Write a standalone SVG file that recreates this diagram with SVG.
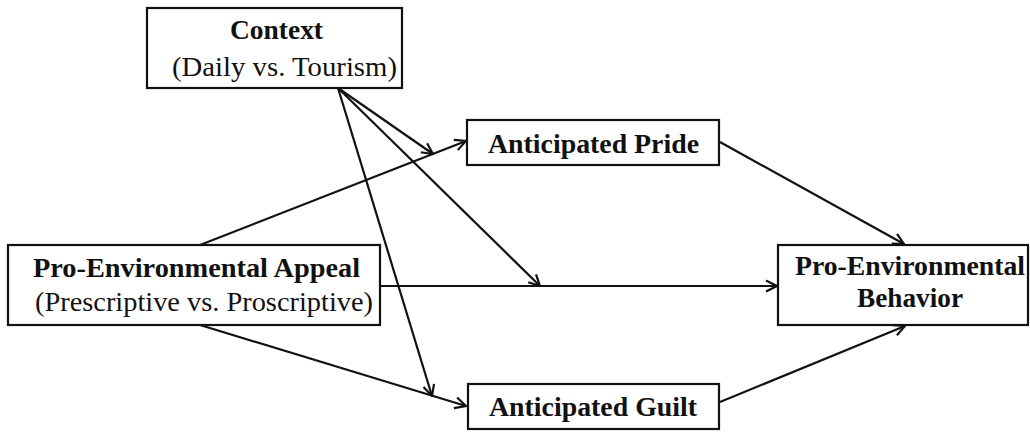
<svg xmlns="http://www.w3.org/2000/svg" width="1030" height="432" viewBox="0 0 1030 432">
<style>
.box{fill:#fff;stroke:#111;stroke-width:2.2}
.b{font-family:"Liberation Serif","Times New Roman",serif;font-weight:bold;font-size:28px;fill:#111}
.r{font-family:"Liberation Serif","Times New Roman",serif;font-size:28px;fill:#111}
.c{fill:none;stroke:#111;stroke-width:2.2;marker-end:url(#ah)}
</style>
<defs>
<marker id="ah" markerUnits="userSpaceOnUse" markerWidth="14" markerHeight="14" viewBox="0 0 14 14" refX="13" refY="7" orient="auto">
<path d="M2,1.5 L13,7 L2,12.5" fill="none" stroke="#111" stroke-width="2.2"/>
</marker>
</defs>
<rect width="1030" height="432" fill="#fff"/>
<g id="connectors">
<path class="c" d="M338,88 L433,154"/>
<path class="c" d="M338,88 L540,286"/>
<path class="c" d="M338,88 L432,396"/>
<path class="c" d="M200,245 L466,141"/>
<path class="c" d="M380,286 L777,286"/>
<path class="c" d="M200,325 L466,406"/>
<path class="c" d="M720,142 L904,244"/>
<path class="c" d="M720,402 L905,326"/>
</g>
<g id="context">
<rect class="box" x="147" y="8" width="255" height="80"/>
<text class="b" x="230" y="39" textLength="93" lengthAdjust="spacingAndGlyphs">Context</text>
<text class="r" x="172" y="76" textLength="225" lengthAdjust="spacingAndGlyphs">(Daily vs. Tourism)</text>
</g>
<g id="appeal">
<rect class="box" x="8" y="245" width="372" height="80"/>
<text class="b" x="33" y="277" textLength="327" lengthAdjust="spacingAndGlyphs">Pro-Environmental Appeal</text>
<text class="r" x="35" y="311" textLength="338" lengthAdjust="spacingAndGlyphs">(Prescriptive vs. Proscriptive)</text>
</g>
<g id="pride">
<rect class="box" x="467" y="120" width="252" height="45"/>
<text class="b" x="488" y="153" textLength="211" lengthAdjust="spacingAndGlyphs">Anticipated Pride</text>
</g>
<g id="guilt">
<rect class="box" x="468" y="384" width="251" height="45"/>
<text class="b" x="489" y="416" textLength="208" lengthAdjust="spacingAndGlyphs">Anticipated Guilt</text>
</g>
<g id="behavior">
<rect class="box" x="778" y="245" width="250" height="80"/>
<text class="b" x="795" y="275" textLength="230" lengthAdjust="spacingAndGlyphs">Pro-Environmental</text>
<text class="b" x="857" y="307" textLength="106" lengthAdjust="spacingAndGlyphs">Behavior</text>
</g>
</svg>
